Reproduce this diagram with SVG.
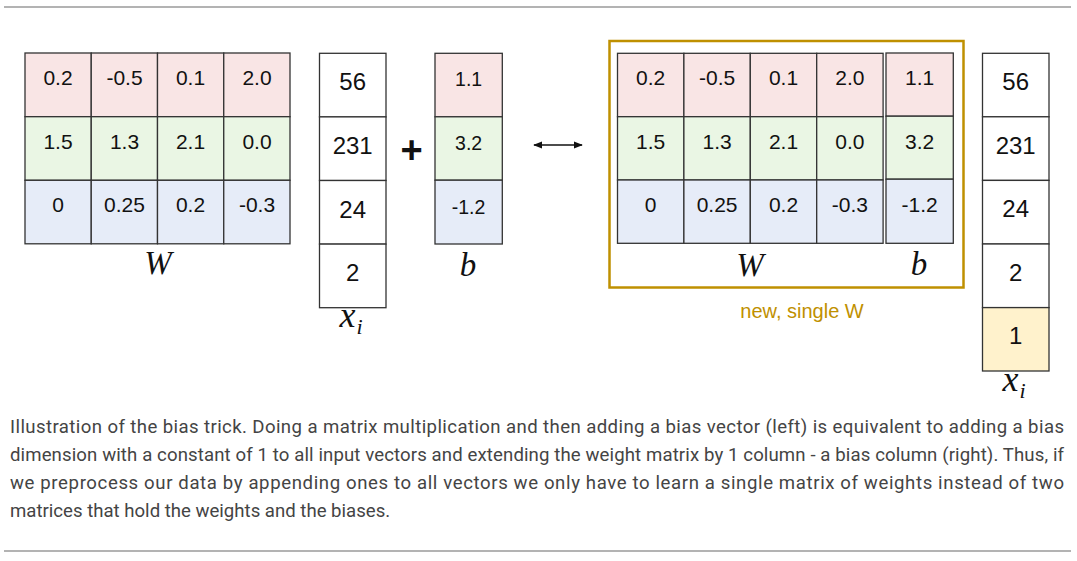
<svg xmlns="http://www.w3.org/2000/svg" width="1077" height="561" viewBox="0 0 1077 561">
<style>
  .bg{fill:#ffffff}
  .rule{stroke:#9a9a9a;stroke-width:1.4;fill:none}
  .c{stroke:#333333;stroke-width:1.3}
  .r{fill:#f9e5e5}
  .g{fill:#eaf6e4}
  .bl{fill:#e6ecf8}
  .w{fill:#ffffff}
  .y{fill:#fff2cc}
  .n{font-family:"Liberation Sans",Arial,sans-serif;font-size:21px;fill:#111;text-anchor:middle}
  .nb{font-family:"Liberation Sans",Arial,sans-serif;font-size:19.5px;fill:#111;text-anchor:middle}
  .nx{font-family:"Liberation Sans",Arial,sans-serif;font-size:24px;fill:#111;text-anchor:middle}
  .m{font-family:"Liberation Serif","Times New Roman",serif;font-style:italic;font-size:33px;fill:#111;text-anchor:middle}
  .mx{font-family:"Liberation Serif","Times New Roman",serif;font-style:italic;font-size:36px;fill:#111;text-anchor:middle}
  .sub{font-size:22px}
  .cap{font-family:Roboto,"Liberation Sans",sans-serif;font-size:18.6px;fill:#444444}
  .gold{fill:none;stroke:#bf9000;stroke-width:2.5}
  .goldt{font-family:"Liberation Sans",Arial,sans-serif;font-size:20px;fill:#bf9000;text-anchor:middle}
</style>
<defs>
  <marker id="ah" viewBox="0 0 10 10" refX="9" refY="5" markerWidth="6" markerHeight="6" orient="auto-start-reverse">
    <path d="M0,1 L10,5 L0,9 Z" fill="#111"/>
  </marker>
</defs>
<rect class="bg" x="0" y="0" width="1077" height="561"/>
<line class="rule" x1="4" y1="7" x2="1071" y2="7"/>
<line class="rule" x1="4" y1="551" x2="1071" y2="551"/>

<g id="W-left">
  <rect class="c r" x="25" y="53" width="66.25" height="63.7"/>
  <rect class="c r" x="91.25" y="53" width="66.25" height="63.7"/>
  <rect class="c r" x="157.5" y="53" width="66.25" height="63.7"/>
  <rect class="c r" x="223.75" y="53" width="66.25" height="63.7"/>
  <rect class="c g" x="25" y="116.7" width="66.25" height="63.6"/>
  <rect class="c g" x="91.25" y="116.7" width="66.25" height="63.6"/>
  <rect class="c g" x="157.5" y="116.7" width="66.25" height="63.6"/>
  <rect class="c g" x="223.75" y="116.7" width="66.25" height="63.6"/>
  <rect class="c bl" x="25" y="180.3" width="66.25" height="63.5"/>
  <rect class="c bl" x="91.25" y="180.3" width="66.25" height="63.5"/>
  <rect class="c bl" x="157.5" y="180.3" width="66.25" height="63.5"/>
  <rect class="c bl" x="223.75" y="180.3" width="66.25" height="63.5"/>
  <text class="n" x="58" y="85">0.2</text>
  <text class="n" x="124.5" y="85">-0.5</text>
  <text class="n" x="190.5" y="85">0.1</text>
  <text class="n" x="257" y="85">2.0</text>
  <text class="n" x="58" y="148.5">1.5</text>
  <text class="n" x="124.5" y="148.5">1.3</text>
  <text class="n" x="190.5" y="148.5">2.1</text>
  <text class="n" x="257" y="148.5">0.0</text>
  <text class="n" x="58" y="212">0</text>
  <text class="n" x="124.5" y="212">0.25</text>
  <text class="n" x="190.5" y="212">0.2</text>
  <text class="n" x="257" y="212">-0.3</text>
  <text class="m" x="158" y="274">W</text>
</g>

<g id="x-left">
  <rect class="c w" x="319.5" y="53.3" width="66.5" height="63.6"/>
  <rect class="c w" x="319.5" y="116.9" width="66.5" height="63.6"/>
  <rect class="c w" x="319.5" y="180.5" width="66.5" height="63.6"/>
  <rect class="c w" x="319.5" y="244.1" width="66.5" height="63.6"/>
  <text class="nx" x="352.7" y="90">56</text>
  <text class="nx" x="352.7" y="154">231</text>
  <text class="nx" x="352.7" y="218">24</text>
  <text class="nx" x="352.7" y="281">2</text>
  <text class="mx" x="351" y="327">x<tspan class="sub" dy="7" dx="1">i</tspan></text>
</g>

<g id="plus">
  <text x="411.5" y="163" font-family="'Liberation Sans',Arial,sans-serif" font-weight="bold" font-size="38" fill="#111" text-anchor="middle">+</text>
</g>

<g id="b-left">
  <rect class="c r" x="435" y="53.3" width="67.3" height="63.5"/>
  <rect class="c g" x="435" y="116.8" width="67.3" height="63.4"/>
  <rect class="c bl" x="435" y="180.2" width="67.3" height="63.8"/>
  <text class="nb" x="468.6" y="86">1.1</text>
  <text class="nb" x="468.6" y="149.5">3.2</text>
  <text class="nb" x="468.6" y="213.5">-1.2</text>
  <text class="m" x="468" y="276">b</text>
</g>

<g id="connectors">
  <line x1="534" y1="145" x2="582" y2="145" stroke="#111" stroke-width="1.5" marker-start="url(#ah)" marker-end="url(#ah)"/>
</g>

<g id="W-new">
  <rect class="gold" x="609.5" y="41" width="354" height="246.5"/>
  <text class="goldt" x="802" y="318">new, single W</text>
</g>

<g id="W-right">
  <rect class="c r" x="617.5" y="53.3" width="66.4" height="63.4"/>
  <rect class="c r" x="683.9" y="53.3" width="66.4" height="63.4"/>
  <rect class="c r" x="750.3" y="53.3" width="66.4" height="63.4"/>
  <rect class="c r" x="816.7" y="53.3" width="66.4" height="63.4"/>
  <rect class="c g" x="617.5" y="116.7" width="66.4" height="63.3"/>
  <rect class="c g" x="683.9" y="116.7" width="66.4" height="63.3"/>
  <rect class="c g" x="750.3" y="116.7" width="66.4" height="63.3"/>
  <rect class="c g" x="816.7" y="116.7" width="66.4" height="63.3"/>
  <rect class="c bl" x="617.5" y="180" width="66.4" height="63.3"/>
  <rect class="c bl" x="683.9" y="180" width="66.4" height="63.3"/>
  <rect class="c bl" x="750.3" y="180" width="66.4" height="63.3"/>
  <rect class="c bl" x="816.7" y="180" width="66.4" height="63.3"/>
  <text class="n" x="650.7" y="85">0.2</text>
  <text class="n" x="717.1" y="85">-0.5</text>
  <text class="n" x="783.5" y="85">0.1</text>
  <text class="n" x="849.9" y="85">2.0</text>
  <text class="n" x="650.7" y="148.5">1.5</text>
  <text class="n" x="717.1" y="148.5">1.3</text>
  <text class="n" x="783.5" y="148.5">2.1</text>
  <text class="n" x="849.9" y="148.5">0.0</text>
  <text class="n" x="650.7" y="211.5">0</text>
  <text class="n" x="717.1" y="211.5">0.25</text>
  <text class="n" x="783.5" y="211.5">0.2</text>
  <text class="n" x="849.9" y="211.5">-0.3</text>
  <text class="m" x="750" y="276">W</text>
</g>

<g id="b-right">
  <rect class="c r" x="886" y="53" width="67.3" height="63.2"/>
  <rect class="c g" x="886" y="116.2" width="67.3" height="63"/>
  <rect class="c bl" x="886" y="179.2" width="67.3" height="64.1"/>
  <text class="n" x="919.6" y="85">1.1</text>
  <text class="n" x="919.6" y="148.5">3.2</text>
  <text class="n" x="919.6" y="211.5">-1.2</text>
  <text class="m" x="919" y="275">b</text>
</g>

<g id="x-right">
  <rect class="c w" x="982.5" y="53.3" width="66.5" height="63.5"/>
  <rect class="c w" x="982.5" y="116.8" width="66.5" height="63.6"/>
  <rect class="c w" x="982.5" y="180.4" width="66.5" height="63.6"/>
  <rect class="c w" x="982.5" y="244" width="66.5" height="63.6"/>
  <rect class="c y" x="982.5" y="307.6" width="66.5" height="63.4"/>
  <text class="nx" x="1015.7" y="90">56</text>
  <text class="nx" x="1015.7" y="153.5">231</text>
  <text class="nx" x="1015.7" y="217">24</text>
  <text class="nx" x="1015.7" y="280.5">2</text>
  <text class="nx" x="1015.7" y="344">1</text>
  <text class="mx" x="1014" y="391">x<tspan class="sub" dy="7" dx="1">i</tspan></text>
</g>

<g id="caption">
  <text class="cap" x="10" y="433" textLength="1054" lengthAdjust="spacing">Illustration of the bias trick. Doing a matrix multiplication and then adding a bias vector (left) is equivalent to adding a bias</text>
  <text class="cap" x="10" y="461" textLength="1054" lengthAdjust="spacing">dimension with a constant of 1 to all input vectors and extending the weight matrix by 1 column - a bias column (right). Thus, if</text>
  <text class="cap" x="10" y="489" textLength="1054" lengthAdjust="spacing">we preprocess our data by appending ones to all vectors we only have to learn a single matrix of weights instead of two</text>
  <text class="cap" x="10" y="517">matrices that hold the weights and the biases.</text>
</g>
</svg>
